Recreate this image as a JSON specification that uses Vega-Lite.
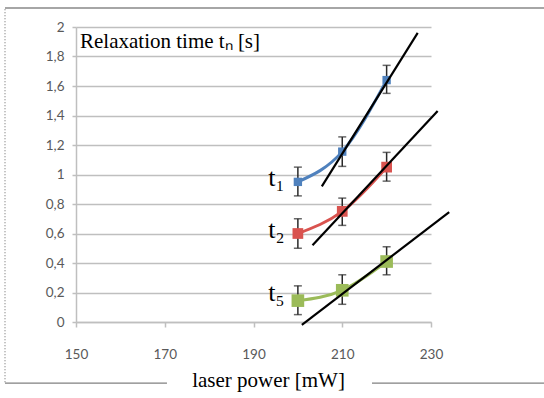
{
  "$schema": "https://vega.github.io/schema/vega-lite/v6.json",
  "autosize": {"type": "none"},
  "padding": {"left": 76, "top": 27, "right": 113, "bottom": 76},
  "width": 355,
  "height": 295,
  "background": "white",
  "config": {
    "view": {"stroke": null},
    "axis": {"labelFont": "Lato", "labelFontSize": 13.5, "labelColor": "#595959", "domainColor": "#bfbfbf", "tickColor": "#bfbfbf", "domainWidth": 1.5, "tickWidth": 1.5}
  },
  "datasets": {
    "pts": [
      {"series": "t1", "power": 200, "t": 0.95, "lo": 0.855, "hi": 1.05},
      {"series": "t1", "power": 210, "t": 1.155, "lo": 1.055, "hi": 1.255},
      {"series": "t1", "power": 220, "t": 1.64, "lo": 1.55, "hi": 1.74},
      {"series": "t2", "power": 200, "t": 0.6, "lo": 0.5, "hi": 0.7},
      {"series": "t2", "power": 210, "t": 0.75, "lo": 0.655, "hi": 0.84},
      {"series": "t2", "power": 220, "t": 1.05, "lo": 0.955, "hi": 1.15},
      {"series": "t5", "power": 200, "t": 0.145, "lo": 0.05, "hi": 0.245},
      {"series": "t5", "power": 210, "t": 0.215, "lo": 0.12, "hi": 0.32},
      {"series": "t5", "power": 220, "t": 0.41, "lo": 0.32, "hi": 0.51}
    ],
    "fits": [
      {"fit": "t1", "power": 205.4, "t": 0.92},
      {"fit": "t1", "power": 227.0, "t": 1.96},
      {"fit": "t2", "power": 203.3, "t": 0.52},
      {"fit": "t2", "power": 231.5, "t": 1.43},
      {"fit": "t5", "power": 200.9, "t": -0.02},
      {"fit": "t5", "power": 234.1, "t": 0.745}
    ],
    "labels": [
      {"label": "t₁", "power": 197.0, "t": 0.975},
      {"label": "t₂", "power": 197.0, "t": 0.625},
      {"label": "t₅", "power": 197.0, "t": 0.195}
    ],
    "one": [{"title": "Relaxation time tₙ [s]"}]
  },
  "layer": [
    {
      "data": {"name": "pts"},
      "mark": {"type": "line", "interpolate": "monotone", "strokeWidth": 3, "clip": false},
      "encoding": {
        "x": {"field": "power", "type": "quantitative", "scale": {"domain": [150, 230], "nice": false, "zero": false},
          "axis": {"values": [150, 170, 190, 210, 230], "tickCount": 20, "labelFlush": false, "grid": false, "tickSize": 5, "labelPadding": 20, "title": "laser power [mW]", "titleFont": "Liberation Serif", "titleFontSize": 21, "titleFontWeight": "normal", "titleColor": "#000000", "titleX": 192, "titleY": 58, "titleBaseline": "middle"}},
        "y": {"field": "t", "type": "quantitative", "scale": {"domain": [0, 2], "nice": false},
          "axis": {"values": [0, 0.2, 0.4, 0.6, 0.8, 1, 1.2, 1.4, 1.6, 1.8, 2], "tickCount": 20, "labelOverlap": false, "labelFlush": false, "grid": true, "gridColor": "#bfbfbf", "gridWidth": 1.5, "tickSize": 4, "labelPadding": 8, "title": null, "labelExpr": "replace(format(datum.value, '~g'), '.', ',')"}},
        "color": {"field": "series", "type": "nominal", "scale": {"domain": ["t1", "t2", "t5"], "range": ["#4F81BD", "#D9534F", "#9BBB59"]}, "legend": null}
      }
    },
    {
      "data": {"name": "pts"},
      "mark": {"type": "errorbar", "ticks": {"size": 8, "thickness": 1.5, "color": "#2a2a2a"}, "rule": {"strokeWidth": 1.5, "color": "#2a2a2a"}},
      "encoding": {
        "x": {"field": "power", "type": "quantitative"},
        "y": {"field": "lo", "type": "quantitative"},
        "y2": {"field": "hi"}
      }
    },
    {
      "data": {"name": "pts"},
      "mark": {"type": "point", "shape": "square", "filled": true, "opacity": 1},
      "encoding": {
        "x": {"field": "power", "type": "quantitative"},
        "y": {"field": "t", "type": "quantitative"},
        "color": {"field": "series", "type": "nominal", "legend": null},
        "size": {"field": "series", "type": "nominal", "scale": {"domain": ["t1", "t2", "t5"], "range": [70, 160, 80]}, "legend": null}
      }
    },
    {
      "data": {"name": "fits"},
      "mark": {"type": "line", "color": "#000000", "strokeWidth": 2.2, "clip": false},
      "encoding": {
        "x": {"field": "power", "type": "quantitative"},
        "y": {"field": "t", "type": "quantitative"},
        "detail": {"field": "fit", "type": "nominal"}
      }
    },
    {
      "data": {"name": "labels"},
      "mark": {"type": "text", "font": "Liberation Serif", "fontSize": 26, "align": "right", "baseline": "middle", "color": "#000000"},
      "encoding": {
        "x": {"field": "power", "type": "quantitative"},
        "y": {"field": "t", "type": "quantitative"},
        "text": {"field": "label"}
      }
    },
    {
      "data": {"name": "one"},
      "mark": {"type": "text", "font": "Liberation Serif", "fontSize": 21, "align": "left", "baseline": "middle", "color": "#000000"},
      "encoding": {
        "x": {"datum": 150.9},
        "y": {"datum": 1.9},
        "text": {"field": "title"}
      }
    },
    {
      "data": {"name": "one"},
      "mark": {"type": "rule", "color": "#a6a6a6", "strokeWidth": 2, "clip": false},
      "encoding": {"x": {"datum": 134}, "x2": {"datum": 256}, "y": {"datum": 2.129}}
    },
    {
      "data": {"name": "one"},
      "mark": {"type": "rule", "color": "#999999", "strokeWidth": 1.5, "strokeDash": [1, 2], "clip": false},
      "encoding": {"x": {"datum": 134}, "y": {"datum": 2.12}, "y2": {"datum": -0.414}}
    },
    {
      "data": {"name": "one"},
      "mark": {"type": "rule", "color": "#808080", "strokeWidth": 1.2, "clip": false},
      "encoding": {"x": {"datum": 134}, "x2": {"datum": 170.5}, "y": {"datum": -0.414}}
    },
    {
      "data": {"name": "one"},
      "mark": {"type": "rule", "color": "#808080", "strokeWidth": 1.2, "clip": false},
      "encoding": {"x": {"datum": 216.7}, "x2": {"datum": 256}, "y": {"datum": -0.414}}
    }
  ]
}
